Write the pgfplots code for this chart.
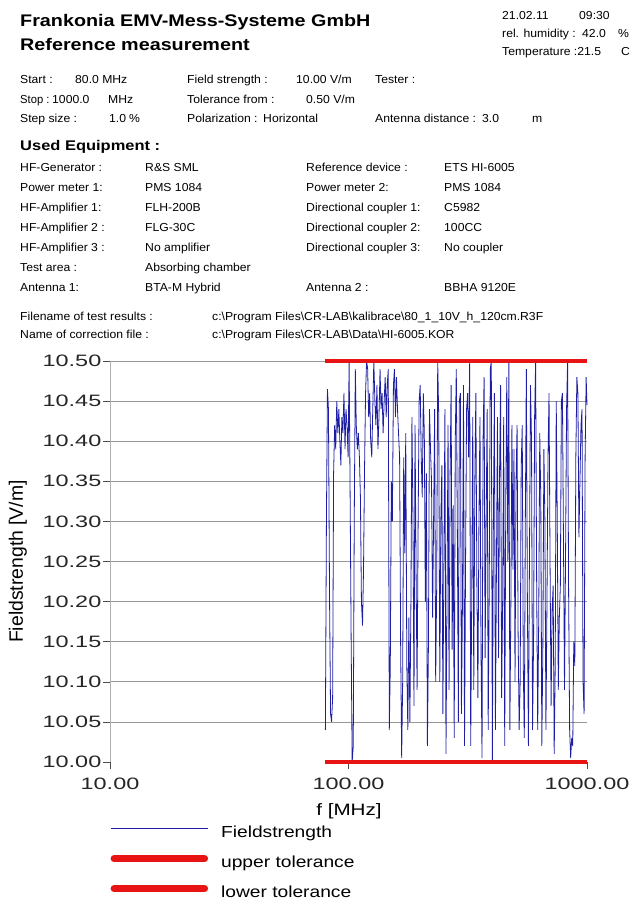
\documentclass[border=0pt]{standalone}
\usepackage{fontspec}
\setmainfont{Liberation Sans}
\usepackage{graphicx}
\usepackage{pgfplots}
\usepackage{pgfplotstable}
\pgfplotsset{compat=1.18}

\definecolor{fsblue}{RGB}{30,30,165}
\definecolor{tolred}{RGB}{232,20,20}
\definecolor{gridgray}{RGB}{150,150,150}
\definecolor{axisgray}{RGB}{175,175,175}

% legend samples: thin trace and thick rounded tolerance bars
\pgfplotsset{
  thinlegend/.style={legend image code/.code={\draw[##1] (0pt,3pt) -- (97pt,3pt);}},
  barlegend/.style={legend image code/.code={\draw[##1, line width=7pt, line cap=round] (3.5pt,3pt) -- (94pt,3pt);}},
}

% Field strength, 80 MHz to 1000 MHz in 1 % steps
\pgfplotstableread{
f E
80.0 10.04
80.8 10.30
81.6 10.465
82.4 10.44
83.3 10.20
84.1 10.06
84.9 10.05
85.8 10.08
86.6 10.36
87.5 10.42
88.4 10.39
89.3 10.45
90.2 10.41
91.1 10.44
92.0 10.40
92.9 10.37
93.8 10.43
94.7 10.41
95.7 10.46
96.7 10.39
97.6 10.44
98.6 10.42
99.6 10.38
100.6 10.50
101.6 10.33
102.6 10.15
103.6 10.00
104.7 10.02
105.7 10.30
106.8 10.49
107.8 10.42
108.9 10.39
110.0 10.41
111.1 10.38
112.2 10.33
113.3 10.20
114.5 10.17
115.6 10.24
116.8 10.37
117.9 10.46
119.1 10.50
120.3 10.49
121.5 10.43
122.7 10.46
123.9 10.40
125.2 10.38
126.4 10.44
127.7 10.50
129.0 10.45
130.3 10.42
131.6 10.47
132.9 10.39
134.2 10.43
135.6 10.49
136.9 10.44
138.3 10.46
139.7 10.41
141.1 10.45
142.5 10.48
143.9 10.43
145.3 10.47
146.8 10.49
148.3 10.04
149.7 10.12
151.2 10.35
152.7 10.30
154.3 10.47
155.8 10.49
157.4 10.43
158.9 10.48
160.5 10.44
162.1 10.41
163.8 10.38
165.4 10.15
167.1 10.005
168.7 10.10
170.4 10.38
172.1 10.26
173.8 10.41
175.6 10.12
177.3 10.04
179.1 10.18
180.9 10.05
182.7 10.20
184.5 10.43
186.4 10.30
188.2 10.07
190.1 10.42
192.0 10.24
193.9 10.09
195.9 10.30
197.8 10.45
199.8 10.47
201.8 10.38
203.8 10.33
205.9 10.46
207.9 10.41
210.0 10.20
212.1 10.36
214.2 10.02
216.4 10.15
218.5 10.44
220.7 10.39
222.9 10.35
225.2 10.18
227.4 10.30
229.7 10.44
232.0 10.10
234.3 10.22
236.6 10.50
239.0 10.43
241.4 10.10
243.8 10.30
246.3 10.37
248.7 10.06
251.2 10.25
253.7 10.44
256.3 10.01
258.8 10.20
261.4 10.42
264.0 10.09
266.7 10.36
269.3 10.47
272.0 10.14
274.7 10.32
277.5 10.03
280.3 10.40
283.1 10.49
285.9 10.30
288.8 10.05
291.6 10.45
294.6 10.46
297.5 10.06
300.5 10.20
303.5 10.47
306.5 10.02
309.6 10.25
312.7 10.44
315.8 10.46
319.0 10.38
322.2 10.50
325.4 10.02
328.6 10.20
331.9 10.43
335.2 10.09
338.6 10.35
342.0 10.46
345.4 10.22
348.8 10.08
352.3 10.30
355.9 10.43
359.4 10.14
363.0 10.005
366.6 10.40
370.3 10.48
374.0 10.13
377.7 10.30
381.5 10.44
385.3 10.04
389.2 10.22
393.1 10.49
397.0 10.50
401.0 10.00
405.0 10.30
409.0 10.46
413.1 10.04
417.3 10.25
421.4 10.43
425.7 10.13
429.9 10.36
434.2 10.47
438.6 10.08
442.9 10.20
447.4 10.43
451.8 10.02
456.4 10.32
460.9 10.48
465.5 10.25
470.2 10.50
474.9 10.04
479.6 10.20
484.4 10.42
489.3 10.24
494.2 10.39
499.1 10.10
504.1 10.35
509.1 10.42
514.2 10.16
519.4 10.04
524.6 10.10
529.8 10.37
535.1 10.42
540.5 10.12
545.9 10.03
551.3 10.30
556.8 10.49
562.4 10.20
568.0 10.02
573.7 10.25
579.5 10.47
585.3 10.40
591.1 10.04
597.0 10.15
603.0 10.43
609.0 10.50
615.1 10.22
621.3 10.04
627.5 10.18
633.7 10.41
640.1 10.33
646.5 10.02
652.9 10.14
659.5 10.39
666.1 10.30
672.7 10.04
679.5 10.20
686.3 10.38
693.1 10.46
700.0 10.25
707.0 10.07
714.1 10.19
721.3 10.22
728.5 10.01
735.8 10.12
743.1 10.45
750.5 10.30
758.1 10.09
765.6 10.18
773.3 10.22
781.0 10.45
788.8 10.46
796.7 10.28
804.7 10.09
812.7 10.25
820.9 10.44
829.1 10.50
837.4 10.21
845.7 10.04
854.2 10.005
862.7 10.03
871.4 10.02
880.1 10.15
888.9 10.12
897.8 10.38
906.7 10.48
915.8 10.46
925.0 10.28
934.2 10.35
943.6 10.42
953.0 10.44
962.5 10.10
972.2 10.06
981.9 10.38
991.7 10.48
1000.0 10.445
}\fieldtable

\newcommand{\hdrfont}{\fontsize{11.6}{14}\selectfont}
\newcommand{\wide}[2][1.2]{\scalebox{#1}[1]{#2}}

\begin{document}
\begin{tikzpicture}
\useasboundingbox (0pt,0pt) rectangle (632pt,-903pt);

\begin{axis}[
  at={(110pt,-762pt)}, anchor=south west,
  width=477pt, height=401pt, scale only axis,
  xmode=log, xmin=10, xmax=1000, ymin=10, ymax=10.5,
  clip=false,
  axis x line*=bottom, axis y line*=left,
  x axis line style={draw=none},
  y axis line style={axisgray, line width=0.8pt},
  xtick={10,100,1000}, xticklabels={10.00,100.00,1000.00},
  xminorticks=false,
  ytick={10.05,10.10,10.15,10.20,10.25,10.30,10.35,10.40,10.45,10.50},
  extra y ticks={10.00}, extra y tick style={grid=none},
  ymajorgrids, grid style={gridgray, line width=0.7pt},
  tick align=outside, major tick length=7pt,
  every tick/.style={black!70, line width=0.6pt},
  /pgf/number format/fixed, /pgf/number format/fixed zerofill,
  /pgf/number format/precision=2, /pgf/number format/assume math mode=true,
  tick label style={font=\fontsize{16.5}{20}\selectfont, text=black!85, xscale=1.42},
  yticklabel style={inner sep=1pt},
  xticklabel style={inner sep=1.5pt, yshift=-7pt},
  xlabel={f [MHz]},
  xlabel style={at={(axis description cs:0.501,-0.123)}, anchor=center,
    font=\fontsize{16.5}{20}\selectfont, xscale=1.25},
  ylabel={Fieldstrength [V/m]},
  ylabel style={at={(axis description cs:-0.193,0.5)}, anchor=center,
    font=\fontsize{19.4}{22}\selectfont},
  legend style={at={(axis description cs:0,0)}, anchor=north west,
    xshift=0pt, yshift=-63pt, draw=none, fill=none, inner sep=0pt,
    font=\fontsize{16}{19}\selectfont, row sep=17pt,
    nodes={inner sep=0pt, text height=12pt, text depth=1pt},
    /tikz/every odd column/.style={column sep=13pt}},
  legend cell align=left,
]
\addplot[fsblue, line width=0.8pt, thinlegend]
  table[x=f, y=E] {\fieldtable};
\addlegendentry{\wide{Fieldstrength}}

\addplot[tolred, line width=4pt, barlegend]
  coordinates {(80,10.50) (1000,10.50)};
\addlegendentry{\wide{upper tolerance}}

\addplot[tolred, line width=4pt, barlegend]
  coordinates {(80,10.00) (1000,10.00)};
\addlegendentry{\wide{lower tolerance}}
\end{axis}

\begin{scope}[x=1pt, y=-1pt,
  every node/.style={inner sep=0pt, anchor=base west, xscale=1.05, font=\hdrfont}]
% title block
\node[font=\bfseries\fontsize{16.8}{20}\selectfont, xscale=1.12] at (20,26.7) {Frankonia EMV-Mess-Systeme GmbH};
\node[font=\bfseries\fontsize{16.8}{20}\selectfont, xscale=1.12] at (20,50) {Reference measurement};
\node at (502,19.3) {21.02.11};
\node at (579,19.3) {09:30};
\node at (502,37) {rel. humidity :};
\node at (582,37) {42.0};
\node at (618,37) {\%};
\node at (502,55) {Temperature :21.5};
\node at (621,55) {C};
% test parameters
\node at (20,83) {Start :};
\node at (75,83) {80.0 MHz};
\node at (187,83) {Field strength :};
\node at (296,83) {10.00 V/m};
\node at (375,83) {Tester :};
\node[xscale=0.92] at (20,103) {Stop :};
\node at (52,103) {1000.0};
\node at (108,103) {MHz};
\node at (187,103) {Tolerance from :};
\node at (306,103) {0.50 V/m};
\node at (20,122) {Step size :};
\node at (109,122) {1.0};
\node at (129,122) {\%};
\node at (187,122) {Polarization :};
\node at (263,122) {Horizontal};
\node at (375,122) {Antenna distance :};
\node at (482,122) {3.0};
\node at (532,122) {m};
% equipment list
\node[font=\bfseries\fontsize{14}{17}\selectfont, xscale=1.12] at (20,150) {Used Equipment :};
\node at (20,171.7) {HF-Generator :};
\node at (145,171.7) {R\&S SML};
\node at (306,171.7) {Reference device :};
\node at (444,171.7) {ETS HI-6005};
\node at (20,191.7) {Power meter 1:};
\node at (145,191.7) {PMS 1084};
\node at (306,191.7) {Power meter 2:};
\node at (444,191.7) {PMS 1084};
\node at (20,211.7) {HF-Amplifier 1:};
\node at (145,211.7) {FLH-200B};
\node at (306,211.7) {Directional coupler 1:};
\node at (444,211.7) {C5982};
\node at (20,231.7) {HF-Amplifier 2 :};
\node at (145,231.7) {FLG-30C};
\node at (306,231.7) {Directional coupler 2:};
\node at (444,231.7) {100CC};
\node at (20,251.7) {HF-Amplifier 3 :};
\node at (145,251.7) {No amplifier};
\node at (306,251.7) {Directional coupler 3:};
\node at (444,251.7) {No coupler};
\node at (20,271.7) {Test area :};
\node at (145,271.7) {Absorbing chamber};
\node at (20,291.7) {Antenna 1:};
\node at (145,291.7) {BTA-M Hybrid};
\node at (306,291.7) {Antenna 2 :};
\node at (444,291.7) {BBHA 9120E};
\node at (20,320) {Filename of test results :};
\node at (212,320) {c:\textbackslash{}Program Files\textbackslash{}CR-LAB\textbackslash{}kalibrace\textbackslash{}80\_1\_10V\_h\_120cm.R3F};
\node at (20,338) {Name of correction file :};
\node at (212,338) {c:\textbackslash{}Program Files\textbackslash{}CR-LAB\textbackslash{}Data\textbackslash{}HI-6005.KOR};
\end{scope}
\end{tikzpicture}
\end{document}
